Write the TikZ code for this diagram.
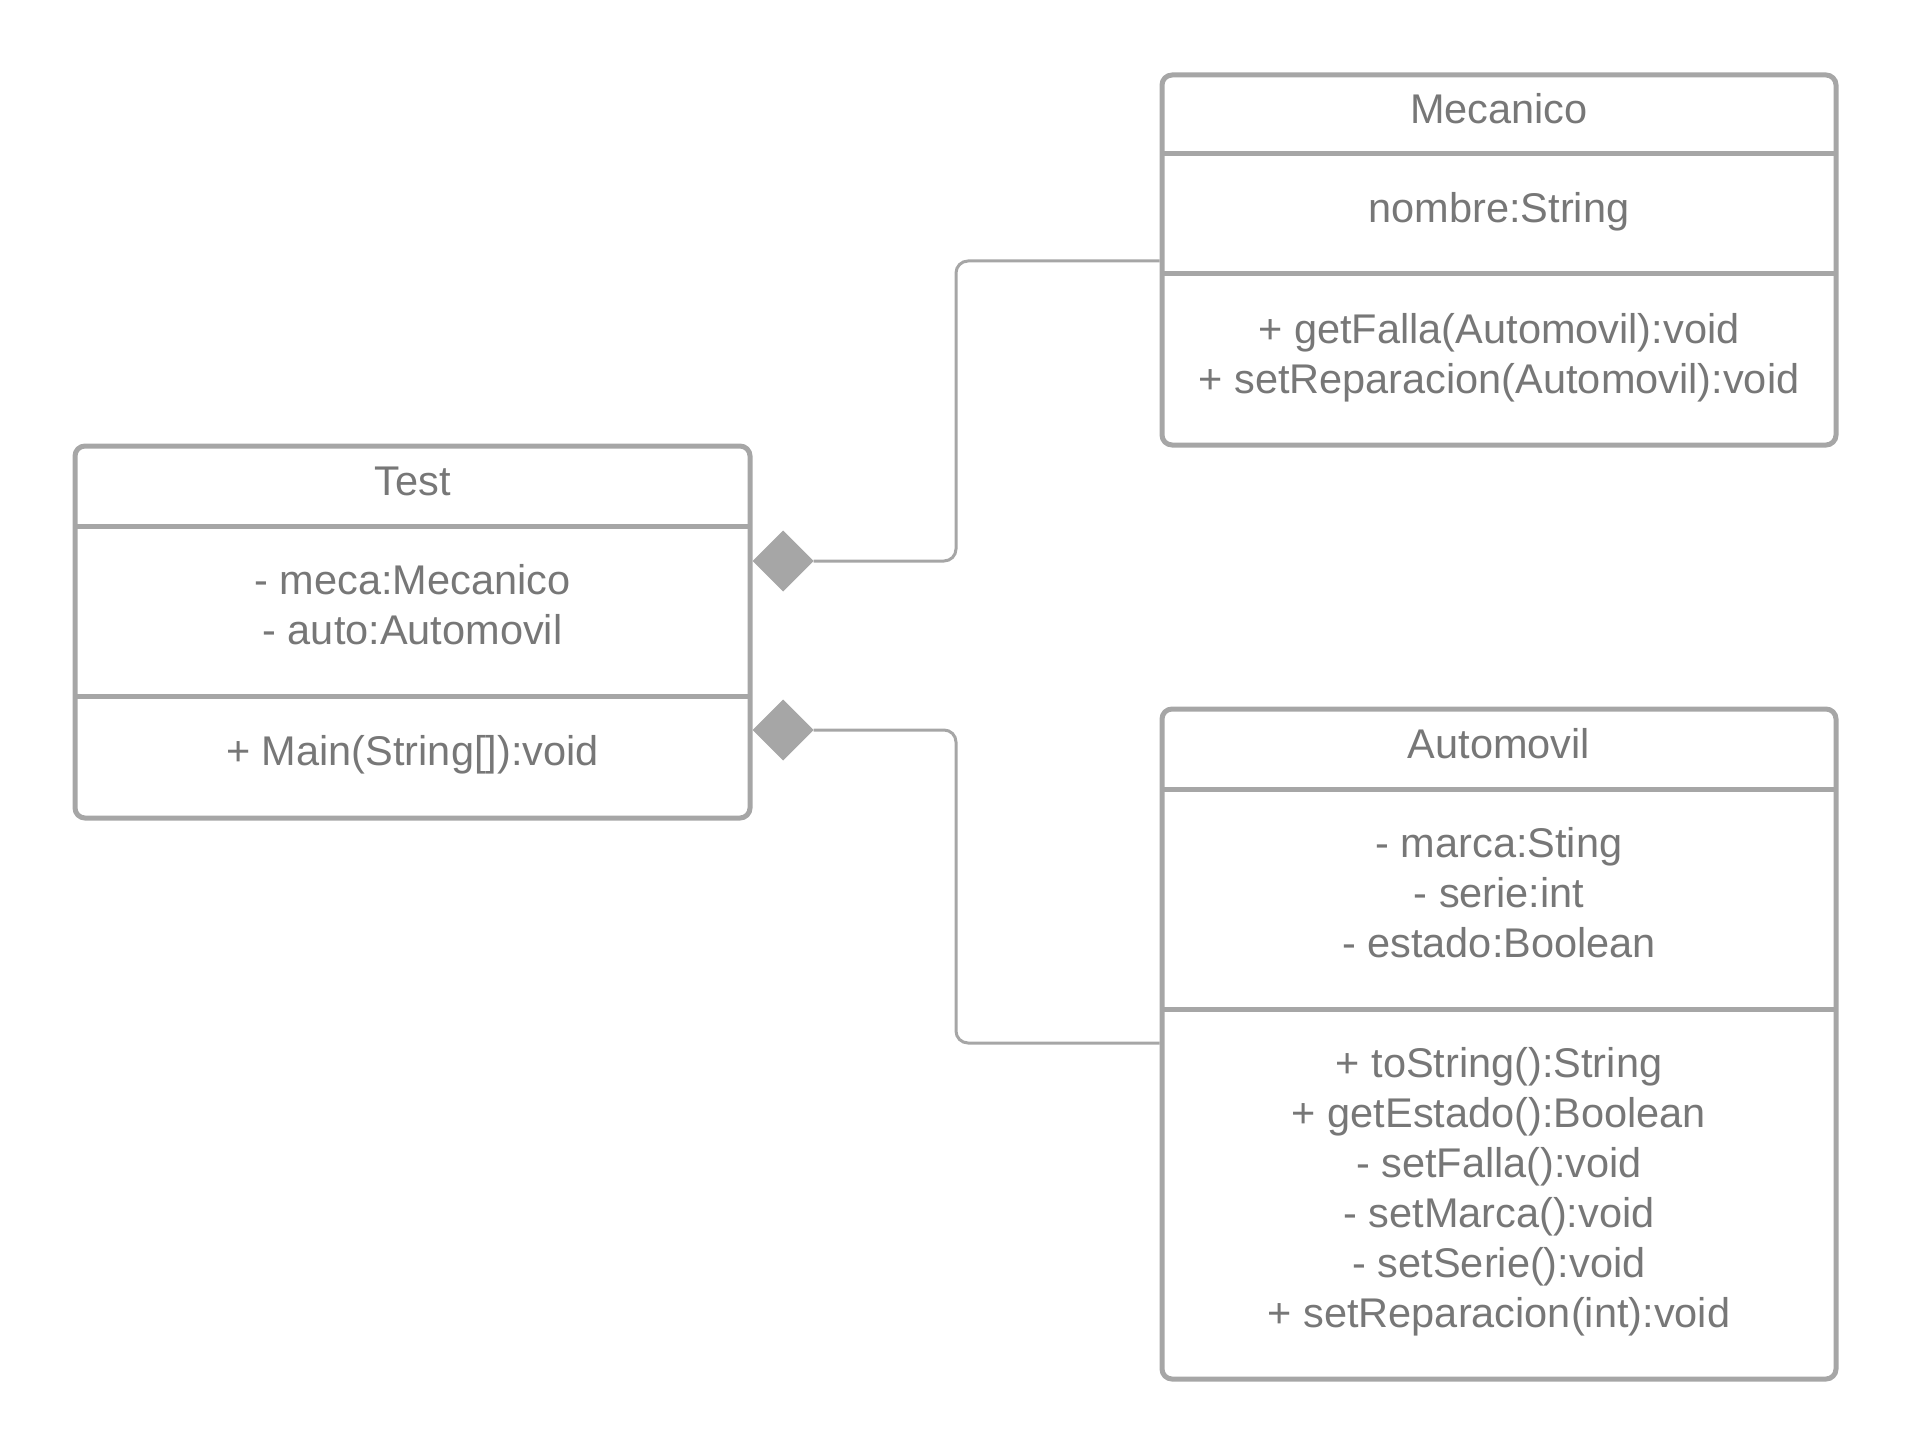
\documentclass[tikz,border=0pt]{standalone}
\usepackage{fontspec}
\setmainfont{Liberation Sans}
\usetikzlibrary{shapes.geometric}
\definecolor{linegray}{HTML}{A6A6A6}
\definecolor{txtgray}{HTML}{777777}
\begin{document}
\begin{tikzpicture}[x=1pt,y=-1pt,
  umlbox/.style={draw=linegray, line width=5pt, rounded corners=10pt, inner sep=0pt, fill=white},
  divline/.style={draw=linegray, line width=5pt},
  conn/.style={draw=linegray, line width=3pt, rounded corners=12pt},
  dia/.style={diamond, fill=linegray, draw=none, inner sep=0pt, outer sep=0pt, minimum width=61pt, minimum height=61pt},
  txt/.style={text=txtgray, font=\fontsize{41.5}{50}\selectfont, inner sep=0pt, anchor=base}
]
\useasboundingbox (0,0) rectangle (1913,1455);

% boxes
\node[umlbox, minimum width=675pt, minimum height=372pt] (test) at (412.5,632) {};
\node[umlbox, minimum width=674pt, minimum height=370pt] (meca) at (1499,260) {};
\node[umlbox, minimum width=674pt, minimum height=670pt] (auto) at (1499,1044) {};

% compartment dividers
\draw[divline] (75,526) -- (750,526);
\draw[divline] (75,696) -- (750,696);
\draw[divline] (1162,154) -- (1836,154);
\draw[divline] (1162,274) -- (1836,274);
\draw[divline] (1162,789) -- (1836,789);
\draw[divline] (1162,1009) -- (1836,1009);

% Test texts
\node[txt] (tTitle) at (412.5,495) {Test};
\node[txt] (tA1) at (412.5,594) {- meca:Mecanico};
\node[txt] (tA2) at (412.5,644) {- auto:Automovil};
\node[txt] (tM1) at (412.5,765) {+ Main(String[]):void};

% Mecanico texts
\node[txt] (mTitle) at (1499,124) {Mecanico};
\node[txt] (mA1) at (1499,223) {nombre:String};
\node[txt] (mM1) at (1499,343) {+ getFalla(Automovil):void};
\node[txt] (mM2) at (1499,393) {+ setReparacion(Automovil):void};

% Automovil texts
\node[txt] (aTitle) at (1499,758) {Automovil};
\node[txt] (aA1) at (1499,857) {- marca:Sting};
\node[txt] (aA2) at (1499,907) {- serie:int};
\node[txt] (aA3) at (1499,957) {- estado:Boolean};
\node[txt] (aM1) at (1499,1077) {+ toString():String};
\node[txt] (aM2) at (1499,1127) {+ getEstado():Boolean};
\node[txt] (aM3) at (1499,1177) {- setFalla():void};
\node[txt] (aM4) at (1499,1227) {- setMarca():void};
\node[txt] (aM5) at (1499,1277) {- setSerie():void};
\node[txt] (aM6) at (1499,1327) {+ setReparacion(int):void};

% connectors
\coordinate (c1) at (0,561);
\coordinate (c2) at (0,730);
\node[dia, anchor=west] (d1) at (test.east |- c1) {};
\node[dia, anchor=west] (d2) at (test.east |- c2) {};
\coordinate (k1) at (956,261);
\coordinate (k2) at (956,1043);
\draw[conn] (d1.east) -| (k1) -- (meca.west |- k1);
\draw[conn] (d2.east) -| (k2) -- (auto.west |- k2);
\end{tikzpicture}
\end{document}
